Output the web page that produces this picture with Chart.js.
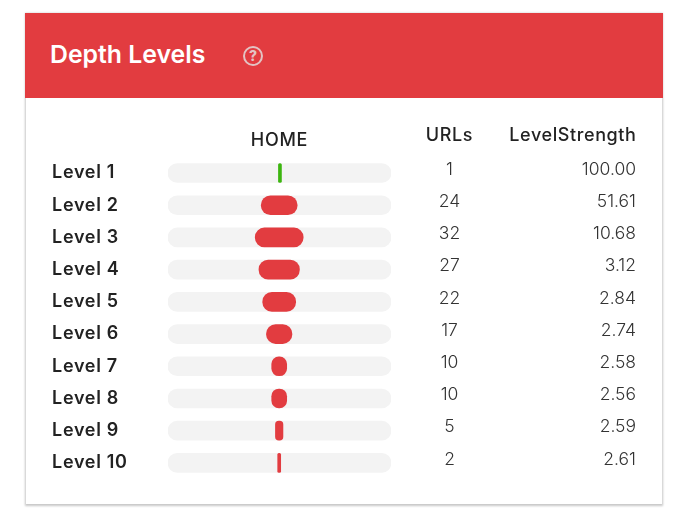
<!DOCTYPE html>
<html><head><meta charset="utf-8">
<script src="https://cdn.jsdelivr.net/npm/chart.js@4"></script>
<style>
html,body{margin:0;padding:0;background:#fff;width:699px;height:516px;overflow:hidden;font-family:Inter,sans-serif}
#card{position:absolute;left:26px;top:13px;width:636px;height:491px;background:#fff;box-shadow:0 1px 2px 1px rgba(0,0,0,.22)}
#head{position:absolute;left:25px;top:13px;width:638px;height:85px;background:#e23c40}
#title{position:absolute;left:50px;top:39px;font:600 24.8px/30px Inter;color:#fff;white-space:nowrap}
#help{position:absolute;left:243px;top:46px;width:16px;height:16px;border:2px solid #e3c3c3;border-radius:50%;color:#e3c3c3;font:800 14px/16px Inter;text-align:center}
#wrap{position:absolute;left:0;top:0;width:699px;height:516px}
</style></head><body>
<div id="card"></div><div id="head"></div>
<div id="title">Depth Levels</div><div id="help">?</div>
<div id="wrap"><canvas id="c" width="699" height="516"></canvas></div>
<script>
const levels=["Level 1","Level 2","Level 3","Level 4","Level 5","Level 6","Level 7","Level 8","Level 9","Level 10"];
const urls=[1,24,32,27,22,17,10,10,5,2];
const strength=["100.00","51.61","10.68","3.12","2.84","2.74","2.58","2.56","2.59","2.61"];
const trackLow=-148.3, trackHigh=149.1;
const barColors=urls.map(v=>v===1?"#3cb50f":"#e23c40");
const columns={
  id:"columns",
  beforeDraw(chart){chart.ctx.letterSpacing="0.7px";},
  afterDraw(chart){
    const {ctx,scales:{y}}=chart;
    ctx.save();ctx.textBaseline="middle";
    ctx.letterSpacing="0.6px";
    ctx.fillStyle="#222";ctx.font="500 18px Inter";
    ctx.textAlign="center";ctx.fillText("URLs",449.5,135.5);
    ctx.textAlign="right";ctx.fillText("LevelStrength",636.5,135.5);
    ctx.letterSpacing="0px";
    ctx.fillStyle="#333";ctx.font="300 17.5px Inter";
    levels.forEach((l,i)=>{
      const py=y.getPixelForValue(i)-3.5;
      ctx.textAlign="center";ctx.fillText(String(urls[i]),449.5,py);
      ctx.textAlign="right";ctx.fillText(strength[i],636,py);
    });
    ctx.restore();
  }
};
new Chart(document.getElementById("c"),{
  type:"bar",
  data:{labels:levels,datasets:[
    {label:"URLs",data:urls.map(v=>[-v,v]),backgroundColor:barColors,order:1,grouped:false,barThickness:19,borderRadius:10,borderSkipped:false,minBarLength:3},
    {label:"Track",data:urls.map(()=>[trackLow,trackHigh]),backgroundColor:"#f3f3f3",order:2,grouped:false,barThickness:19,borderRadius:10,borderSkipped:false}
  ]},
  options:{
    indexAxis:"y",responsive:false,animation:false,devicePixelRatio:1,
    layout:{padding:{left:52,right:308,top:120.5,bottom:37}},
    plugins:{legend:{display:false},tooltip:{enabled:false},title:{display:false}},
    scales:{
      x:{position:"top",min:trackLow,max:trackHigh,
        grid:{display:false},border:{display:false},
        ticks:{display:false},
        title:{display:true,text:"HOME",color:"#222",font:{family:"Inter",size:18,weight:"500"},padding:{top:9,bottom:0}},
        afterFit(s){s.height=36.4;}},
      y:{grid:{display:false},border:{display:false},
        ticks:{color:"#222",font:{family:"Inter",size:18,weight:"600"},crossAlign:"far",padding:0,autoSkip:false},
        afterFit(s){s.width=116;}}
    }
  },
  plugins:[columns]
});
</script></body></html>
